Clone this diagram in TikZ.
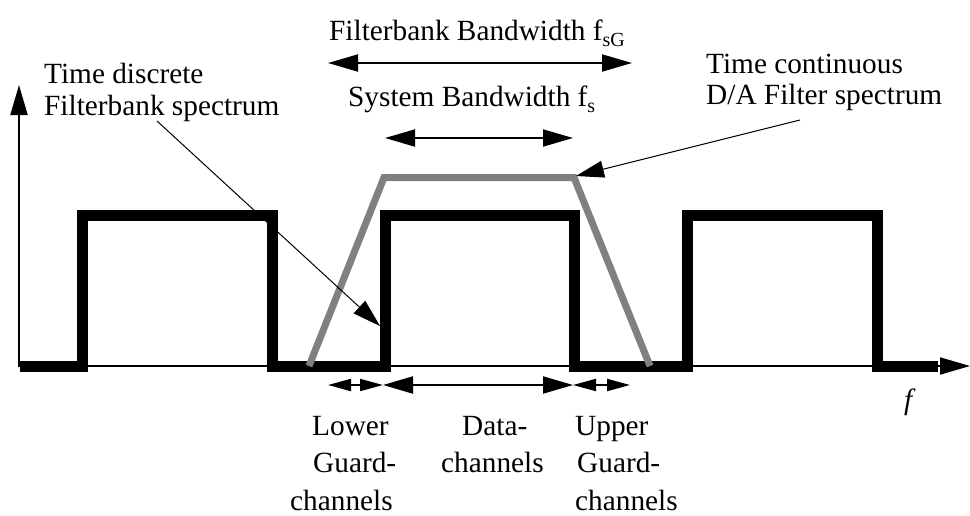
\documentclass[tikz,border=0pt]{standalone}
\usepackage{fontspec}
\setmainfont{Liberation Serif}
\usetikzlibrary{arrows.meta}
\definecolor{dagray}{RGB}{128,128,128}
\newcommand\lowsub[1]{\raisebox{-6pt}{\fontsize{20}{20}\selectfont #1}}
\begin{document}
\begin{tikzpicture}[x=1pt,y=-1pt,
  lbl/.style={anchor=base west, inner sep=0pt, font=\fontsize{29.3}{33}\selectfont},
  spec/.style={line width=11pt, line join=miter, line cap=butt},
  dafilt/.style={line width=7pt, draw=dagray, line join=miter, line cap=butt},
  axisline/.style={line width=2pt, -{Triangle[length=30pt,width=17pt]}},
  dimarrow/.style={line width=2pt, {Triangle[length=30pt,width=17pt]}-{Triangle[length=30pt,width=17pt]}},
  guardarrow/.style={line width=2pt, {Triangle[length=23pt,width=12pt]}-{Triangle[length=23pt,width=12pt]}},
  pointer/.style={line width=1pt, -{Triangle[length=28pt,width=17pt]}}
]
\useasboundingbox (0,0) rectangle (970,515);

% axes
\coordinate (origin) at (19,366);
\coordinate (yend) at (19,85);
\coordinate (xend) at (970,366);
\draw[axisline] (19,367) -- (yend);
\draw[axisline] (18,366) -- (xend);
\node[lbl, font=\fontsize{29.3}{33}\selectfont\itshape] (flabel) at (904,409) {f};

% time discrete filterbank spectrum
\draw[spec] (20,366.5) -- (82.5,366.5) -- (82.5,215.5) -- (272.5,215.5)
  -- (272.5,366.5) -- (385.5,366.5) -- (385.5,215.5) -- (574.5,215.5)
  -- (574.5,366.5) -- (687.5,366.5) -- (687.5,215.5) -- (877,215.5)
  -- (877,366.5) -- (938,366.5);

% time continuous D/A filter spectrum
\coordinate (daL) at (309,366);
\coordinate (daTL) at (384,177.5);
\coordinate (daTR) at (574,177.5);
\coordinate (daR) at (650,366);
\draw[dafilt] (daL) -- (daTL) -- (daTR) -- (daR);

% bandwidth labels and arrows
\node[lbl] (fbw) at (329,40) {Filterbank Bandwidth f\lowsub{sG}};
\coordinate (fbwL) at (328,63);
\coordinate (fbwR) at (632,63);
\draw[dimarrow] (fbwL) -- (fbwR);

\node[lbl] (sbw) at (348,106) {System Bandwidth f\lowsub{s}};
\coordinate (sbwL) at (385,138);
\coordinate (sbwR) at (573,138);
\draw[dimarrow] (sbwL) -- (sbwR);

% spectrum labels with pointers
\node[lbl] (td1) at (44,83) {Time discrete};
\node[lbl] (td2) at (44,115) {Filterbank spectrum};
\coordinate (tdFrom) at (157,121);
\coordinate (tdTo) at (380,326);
\draw[pointer] (tdFrom) -- (tdTo);

\node[lbl] (tc1) at (706,73) {Time continuous};
\node[lbl] (tc2) at (706,104) {D/A Filter spectrum};
\coordinate (tcFrom) at (800,120);
\coordinate (tcTo) at (576,176);
\draw[pointer] (tcFrom) -- (tcTo);

% channel ranges below the axis
\coordinate (g1) at (328,385);
\coordinate (g2) at (383,385);
\coordinate (g3) at (573,385);
\coordinate (g4) at (630,385);
\draw[guardarrow] (g1) -- (g2);
\draw[dimarrow] (g2) -- (g3);
\draw[guardarrow] (g3) -- (g4);

\node[lbl] (lo1) at (312,435) {Lower};
\node[lbl] (lo2) at (313,472) {Guard-};
\node[lbl] (lo3) at (290,510) {channels};

\node[lbl] (da1) at (462,435) {Data-};
\node[lbl] (da2) at (441,472) {channels};

\node[lbl] (up1) at (575,435) {Upper};
\node[lbl] (up2) at (577,472) {Guard-};
\node[lbl] (up3) at (575,510) {channels};
\end{tikzpicture}
\end{document}
